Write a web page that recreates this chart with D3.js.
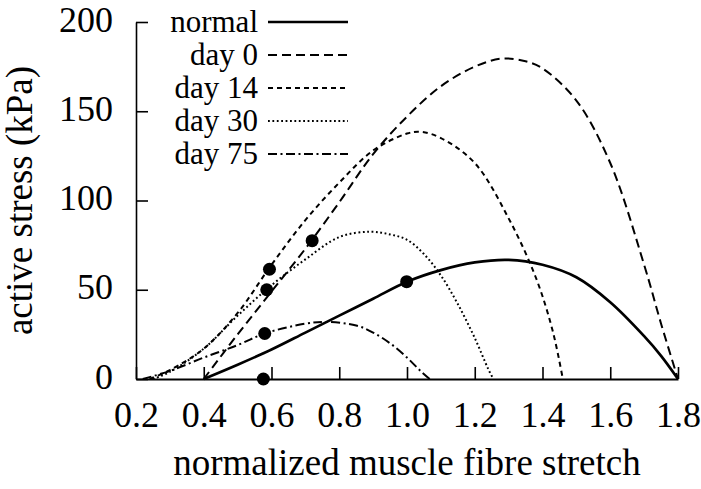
<!DOCTYPE html>
<html>
<head>
<meta charset="utf-8">
<script src="https://cdn.jsdelivr.net/npm/d3@7/dist/d3.min.js"></script>
<style>
html,body{margin:0;padding:0;background:#fff;}
svg text{font-family:"Liberation Serif","DejaVu Serif",serif;fill:#000;}
</style>
</head>
<body>
<svg id="chart" width="701" height="489"></svg>
<script>
// ---- data ----
const seriesNames = ["normal", "day 0", "day 14", "day 30", "day 75"];

const stretchNormal = [0.4, 0.5, 0.6, 0.7, 0.8, 0.9, 1.0, 1.1, 1.2, 1.3, 1.4, 1.5, 1.6, 1.7, 1.75, 1.8];
const stressNormal  = [0, 8, 16.5, 26, 35.5, 45, 54.5, 61, 65.3, 66.7, 64, 57, 43, 24, 13, 0];

const stretchDay0 = [0.4, 0.5, 0.6, 0.7, 0.8, 0.9, 1.0, 1.1, 1.2, 1.28, 1.35, 1.4, 1.5, 1.6, 1.7, 1.75, 1.8];
const stressDay0  = [0, 25, 49, 73, 99, 126, 147, 164, 175, 179.5, 178, 174, 156, 121, 64, 31, 0];

const stretchDay14 = [0.24, 0.3, 0.4, 0.5, 0.6, 0.7, 0.8, 0.9, 1.0, 1.04, 1.1, 1.2, 1.3, 1.38, 1.43, 1.46];
const stressDay14  = [0, 5, 17, 37, 64, 89, 110, 128, 137.5, 138.5, 135, 121, 90, 57, 27, 0];

const stretchDay30 = [0.25, 0.3, 0.4, 0.5, 0.6, 0.7, 0.8, 0.89, 0.95, 1.0, 1.05, 1.1, 1.15, 1.2, 1.24, 1.255];
const stressDay30  = [0, 4, 17, 35.5, 52.5, 67, 79.5, 82.5, 81, 78, 70, 58, 42, 23, 5.5, 0];

const stretchDay75 = [0.22, 0.3, 0.4, 0.5, 0.58, 0.7, 0.76, 0.85, 0.9, 0.95, 1.0, 1.04, 1.067];
const stressDay75  = [0, 4.5, 12, 19, 25.5, 31, 32, 30, 26, 20, 12, 4.5, 0];

const pointStretch = [0.576, 0.58, 0.586, 0.594, 0.72, 0.999];
const pointStress  = [0, 25.5, 50, 61.5, 77.5, 54.5];

const xTicks = [0.2, 0.4, 0.6, 0.8, 1.0, 1.2, 1.4, 1.6, 1.8];
const yTicks = [0, 50, 100, 150, 200];

const xTitle = "normalized muscle fibre stretch";
const yTitle = "active stress (kPa)";

// ---- styles ----
const styles = [
  {width: 2.7, dash: null},
  {width: 2.0, dash: "9,5"},
  {width: 2.0, dash: "5,4"},
  {width: 2.0, dash: "1.8,2.6"},
  {width: 2.0, dash: "9,3.5,2,3.5"}
];

const seriesData = [
  [stretchNormal, stressNormal],
  [stretchDay0, stressDay0],
  [stretchDay14, stressDay14],
  [stretchDay30, stressDay30],
  [stretchDay75, stressDay75]
];

const svg = d3.select("#chart");
const mLeft = 136, mRight = 678, mTop = 22, mBottom = 379;

const x = d3.scaleLinear().domain([0.2, 1.8]).range([mLeft, mRight]);
const y = d3.scaleLinear().domain([0, 200]).range([mBottom, mTop]);

// axes
const xAxis = d3.axisBottom(x).tickValues(xTicks).tickFormat(d3.format(".1f")).tickSizeInner(-12).tickSizeOuter(0).tickPadding(26);
const gx = svg.append("g").attr("transform", `translate(0,${mBottom})`).call(xAxis);
gx.select(".domain").attr("stroke", "#000").attr("stroke-width", 2);
gx.selectAll(".tick line").attr("stroke", "#000").attr("stroke-width", 1.6);
gx.selectAll(".tick text").attr("font-size", 36).attr("dy", "22px");

const yAxis = d3.axisLeft(y).tickValues(yTicks).tickSizeInner(-12).tickSizeOuter(0).tickPadding(23);
const gy = svg.append("g").attr("transform", `translate(${mLeft},0)`).call(yAxis);
gy.select(".domain").attr("stroke", "#000").attr("stroke-width", 1.6);
gy.selectAll(".tick line").attr("stroke", "#000").attr("stroke-width", 1.6);
gy.selectAll(".tick text").attr("font-size", 36).attr("dy", "9px");

// titles
svg.append("text").attr("x", (mLeft + mRight) / 2).attr("y", 475).attr("text-anchor", "middle")
  .attr("font-size", 37).text(xTitle);
svg.append("text").attr("transform", `translate(32,${(mTop + mBottom) / 2}) rotate(-90)`)
  .attr("text-anchor", "middle").attr("font-size", 37).text(yTitle);

// curves
const line = d3.line().x(d => x(d[0])).y(d => y(d[1])).curve(d3.curveCatmullRom.alpha(0.5));
seriesData.forEach((s, i) => {
  const pts = s[0].map((v, j) => [v, s[1][j]]);
  svg.append("path").datum(pts).attr("d", line)
    .attr("fill", "none").attr("stroke", "#000")
    .attr("stroke-width", styles[i].width)
    .attr("stroke-dasharray", styles[i].dash);
});

// points
svg.append("g").selectAll("circle").data(pointStretch.map((v, j) => [v, pointStress[j]]))
  .join("circle").attr("cx", d => x(d[0])).attr("cy", d => y(d[1])).attr("r", 6.5).attr("fill", "#000");

// legend
const legY = [22, 55, 88, 121, 154];
const leg = svg.append("g");
seriesNames.forEach((name, i) => {
  leg.append("text").attr("x", 258).attr("y", legY[i] + 10).attr("text-anchor", "end")
    .attr("font-size", 31).text(name);
  leg.append("line").attr("x1", 268).attr("x2", 348).attr("y1", legY[i]).attr("y2", legY[i])
    .attr("stroke", "#000").attr("stroke-width", styles[i].width)
    .attr("stroke-dasharray", styles[i].dash);
});
</script>
</body>
</html>
